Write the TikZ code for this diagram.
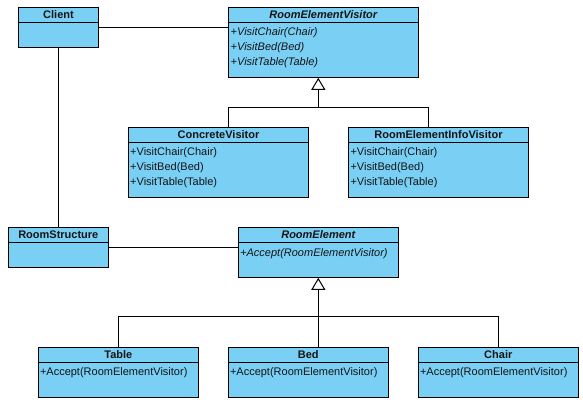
\documentclass[tikz,border=0pt]{standalone}
\usepackage{fontspec}
\setmainfont{Liberation Sans}
\usetikzlibrary{calc,arrows.meta}
\definecolor{umlfill}{RGB}{122,207,245}
\definecolor{umltext}{RGB}{20,20,20}
\tikzset{
  cls/.style={draw=black, fill=umlfill, line width=1pt, inner sep=0pt, minimum height=50pt, minimum width=160pt},
  ttl/.style={font=\fontsize{11}{13}\selectfont\bfseries, text=umltext, inner sep=0pt, text height=8pt, text depth=1pt},
  itm/.style={font=\fontsize{11}{13}\selectfont, text=umltext, inner sep=0pt, anchor=west, text height=8pt, text depth=1pt},
  conn/.style={draw=black, line width=1pt},
  gen/.style={conn, -{Triangle[open, length=12pt, width=14pt, line width=1pt]}},
}
\begin{document}
\begin{tikzpicture}[x=1pt, y=-1pt]
\useasboundingbox (0,0) rectangle (583,403);
% classes
\node[cls, minimum width=80.4pt, minimum height=40pt] (client) at (58.5,27.3) {};
\node[cls, minimum width=190pt, minimum height=70pt] (rev) at (323.3,42.3) {};
\node[cls, minimum width=180.4pt, minimum height=70pt] (cv) at (218.5,162.3) {};
\node[cls, minimum width=179.6pt, minimum height=70pt] (reiv) at (438.5,162.3) {};
\node[cls, minimum width=100pt, minimum height=40pt] (rs) at (58.3,247.3) {};
\node[cls] (re) at (318.3,252.3) {};
\node[cls] (tab) at (118.3,372.3) {};
\node[cls] (bed) at (308.3,372.3) {};
\node[cls] (chr) at (498.3,372.3) {};
% header dividers
\foreach \n in {client,rev,cv,reiv,rs,re,tab,bed,chr}
  \draw[line width=1pt] ($(\n.north west)+(0,15.5)$) -- ($(\n.north east)+(0,15.5)$);
% titles
\node[ttl] (clientT) at ($(client.north)+(0,7.8)$) {Client};
\node[ttl, font=\fontsize{11}{13}\selectfont\bfseries\itshape] (revT) at ($(rev.north)+(0,7.8)$) {RoomElementVisitor};
\node[ttl] (cvT) at ($(cv.north)+(0,7.8)$) {ConcreteVisitor};
\node[ttl] (reivT) at ($(reiv.north)+(0,7.8)$) {RoomElementInfoVisitor};
\node[ttl] (rsT) at ($(rs.north)+(0,7.8)$) {RoomStructure};
\node[ttl, font=\fontsize{11}{13}\selectfont\bfseries\itshape] (reT) at ($(re.north)+(0,7.8)$) {RoomElement};
\node[ttl] (tabT) at ($(tab.north)+(0,7.8)$) {Table};
\node[ttl] (bedT) at ($(bed.north)+(0,7.8)$) {Bed};
\node[ttl] (chrT) at ($(chr.north)+(0,7.8)$) {Chair};
% operations
\node[itm] (rev1) at (230.5,32.3) {\itshape +VisitChair(Chair)};
\node[itm] (rev2) at (230.5,47.3) {\itshape +VisitBed(Bed)};
\node[itm] (rev3) at (230.5,62.3) {\itshape +VisitTable(Table)};
\node[itm] (cv1) at (130,152.3) {+VisitChair(Chair)};
\node[itm] (cv2) at (130,167.3) {+VisitBed(Bed)};
\node[itm] (cv3) at (130,182.3) {+VisitTable(Table)};
\node[itm] (reiv1) at (350.3,152.3) {+VisitChair(Chair)};
\node[itm] (reiv2) at (350.3,167.3) {+VisitBed(Bed)};
\node[itm] (reiv3) at (350.3,182.3) {+VisitTable(Table)};
\node[itm] (re1) at (240,252.8) {\itshape +Accept(RoomElementVisitor)};
\node[itm] (tab1) at (39.8,372.3) {+Accept(RoomElementVisitor)};
\node[itm] (bed1) at (229.8,372.3) {+Accept(RoomElementVisitor)};
\node[itm] (chr1) at (419.8,372.3) {+Accept(RoomElementVisitor)};
% associations
\draw[conn] (client.east) -- (client.east -| rev.west);
\draw[conn] (client.south) -- (client.south |- rs.north);
\draw[conn] (rs.east) -- (rs.east -| re.west);
% generalizations
\coordinate (j1) at ($(rev.south)+(-5,30)$);
\draw[gen] (j1) -- (j1 |- rev.south);
\draw[conn] ($(cv.north)+(10,0)$) |- (j1) -| ($(reiv.north)+(-10,0)$);
\coordinate (j2) at ($(bed.north)+(10,-30)$);
\draw[gen] (j2) -- (j2 |- re.south);
\draw[conn] ($(bed.north)+(10,0)$) -- (j2);
\draw[conn] (tab.north) |- (j2) -| (chr.north);
\end{tikzpicture}
\end{document}
